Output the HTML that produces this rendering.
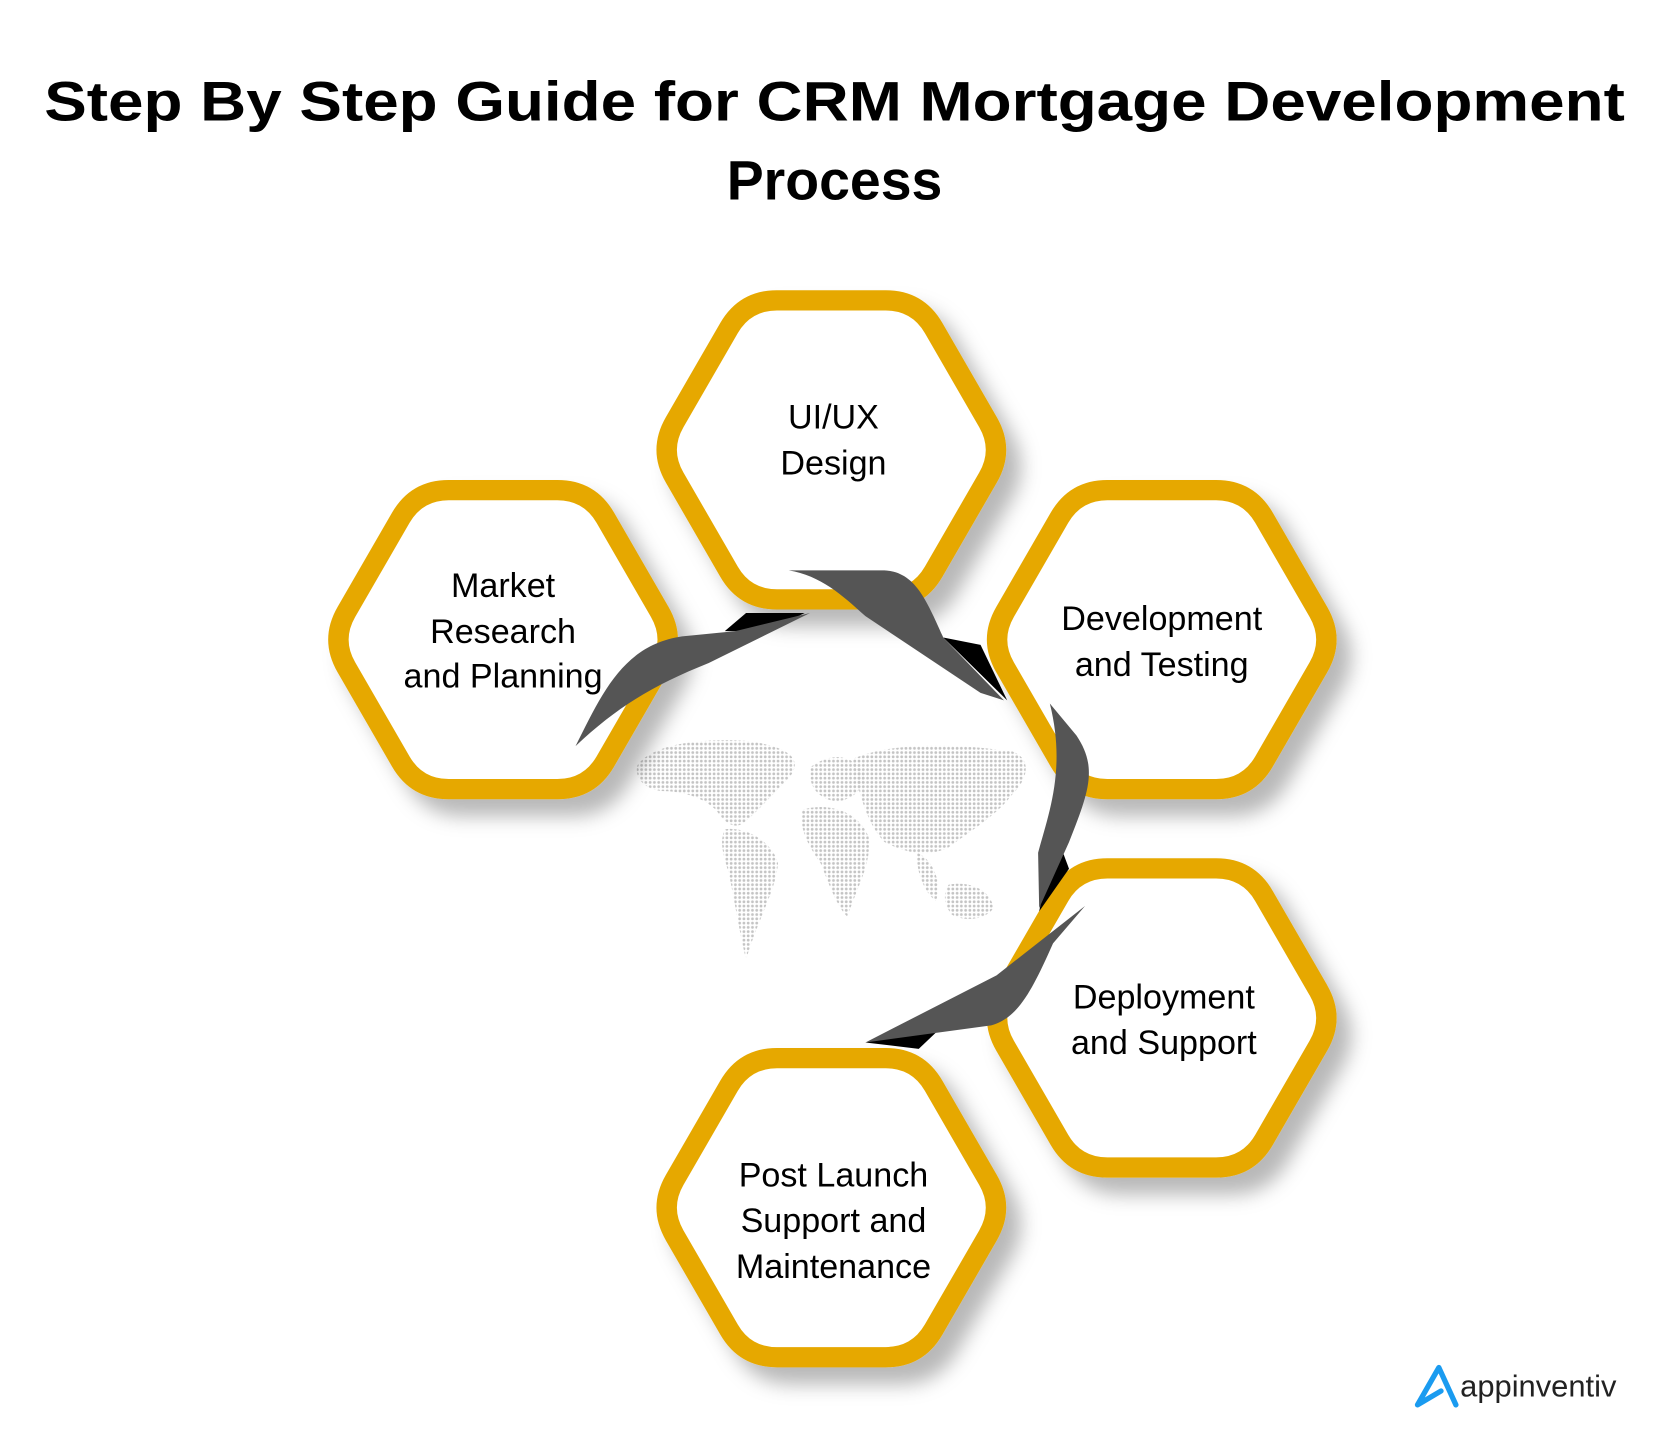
<!DOCTYPE html>
<html><head><meta charset="utf-8"><style>
html,body{margin:0;padding:0;background:#fff;}
svg{display:block;}
text{font-family:"Liberation Sans",sans-serif;}
</style></head><body>
<svg id="s" width="1668" height="1438" viewBox="0 0 1565 1349" xmlns="http://www.w3.org/2000/svg">
<defs>
<filter id="sh" x="-20%" y="-20%" width="150%" height="150%">
<feDropShadow dx="14" dy="16" stdDeviation="9" flood-color="#000" flood-opacity="0.28"/>
</filter>
<pattern id="dots" width="4" height="4" patternUnits="userSpaceOnUse">
<circle cx="2" cy="2" r="1.3" fill="#c4c4c4"/>
</pattern>
</defs>
<text x="783" y="113" text-anchor="middle" font-size="52" font-weight="bold" textLength="1483" lengthAdjust="spacingAndGlyphs">Step By Step Guide for CRM Mortgage Development</text>
<text x="783" y="187" text-anchor="middle" font-size="52" font-weight="bold">Process</text>

<g fill="url(#dots)">
<path d="M598,718 C610,700 650,692 700,695 C740,700 755,712 740,730 C725,745 712,760 700,770 C690,780 680,772 672,760 C660,748 640,742 620,742 C605,740 595,730 598,718 Z"/>
<path d="M680,778 C700,775 725,790 730,810 C728,835 712,860 700,900 C695,880 690,850 684,820 C678,800 675,790 680,778 Z"/>
<path d="M760,720 C780,705 800,708 810,725 C812,740 800,750 785,752 C770,750 758,740 760,720 Z"/>
<path d="M752,760 C775,752 805,760 815,785 C818,810 805,830 795,860 C785,850 778,830 770,810 C760,795 750,780 752,760 Z"/>
<path d="M800,712 C840,695 900,698 950,705 C968,712 965,730 950,745 C935,765 910,780 890,795 C870,805 850,800 830,790 C815,775 805,745 800,712 Z"/>
<path d="M860,800 C875,805 885,830 878,845 C868,838 860,820 860,800 Z"/>
<path d="M890,830 C910,826 930,835 932,852 C925,863 905,865 893,858 C885,848 885,838 890,830 Z"/>
</g>

<g id="hexes" fill="#fff" stroke="#e6a800" stroke-width="19" filter="url(#sh)"></g>

<g>
<path d="M680,592 L700,575 L755,575 L720,592 Z" fill="#000"/>
<path d="M540,700 C565,650 585,605 640,597 L690,592 L760,575 L665,622 C615,642 580,662 540,700 Z" fill="#555"/>
<path d="M885,598 L920,605 L945,657 Z" fill="#000"/>
<path d="M740,535 L830,535 C858,537 868,560 885,598 L942,657 L920,650 L812,578 C790,558 770,540 740,535 Z" fill="#555"/>
<path d="M990,780 L1003,815 L975,855 Z" fill="#000"/>
<path d="M985,660 L1010,690 C1030,720 1022,742 1003,790 L975,852 L974,800 C985,760 1000,720 985,660 Z" fill="#555"/>
<path d="M812,978 L860,965 L882,965 L862,984 Z" fill="#000"/>
<path d="M1018,850 L988,885 C968,930 955,955 930,962 L812,978 L935,915 Z" fill="#555"/>
</g>

<g font-size="32" fill="#000" text-anchor="middle">
<text x="782" y="402">UI/UX</text>
<text x="782" y="445">Design</text>
<text x="472" y="560">Market</text>
<text x="472" y="603">Research</text>
<text x="472" y="645">and Planning</text>
<text x="1090" y="591">Development</text>
<text x="1090" y="634">and Testing</text>
<text x="1092" y="946">Deployment</text>
<text x="1092" y="989">and Support</text>
<text x="782" y="1113">Post Launch</text>
<text x="782" y="1156">Support and</text>
<text x="782" y="1199">Maintenance</text>
</g>

<path d="M1330,1318 L1350,1283 L1366,1318 M1330,1318 L1352,1305" fill="none" stroke="#1a9bf0" stroke-width="5" stroke-linecap="round" stroke-linejoin="round"/>
<text x="1370" y="1310" font-size="29" fill="#222">appinventiv</text>
</svg>
<script>
(function(){
var g=document.getElementById('hexes');
var cs=[[780,422],[472,600],[1090,600],[1090,955],[780,1133]];
var r=162,c=30;
cs.forEach(function(p){
 var v=[];
 for(var i=0;i<6;i++){var a=Math.PI/3*i;v.push([p[0]+r*Math.cos(a),p[1]+r*Math.sin(a)]);}
 var d='';
 for(var i=0;i<6;i++){
  var a=v[(i+5)%6],b=v[i],n=v[(i+1)%6];
  var f=c/r;
  var p1=[b[0]+(a[0]-b[0])*f,b[1]+(a[1]-b[1])*f];
  var p2=[b[0]+(n[0]-b[0])*f,b[1]+(n[1]-b[1])*f];
  d+=(i==0?'M':'L')+p1[0].toFixed(1)+','+p1[1].toFixed(1)+' Q'+b[0].toFixed(1)+','+b[1].toFixed(1)+' '+p2[0].toFixed(1)+','+p2[1].toFixed(1)+' ';
 }
 d+='Z';
 var e=document.createElementNS('http://www.w3.org/2000/svg','path');
 e.setAttribute('d',d);g.appendChild(e);
});
})();
</script>
</body></html>
